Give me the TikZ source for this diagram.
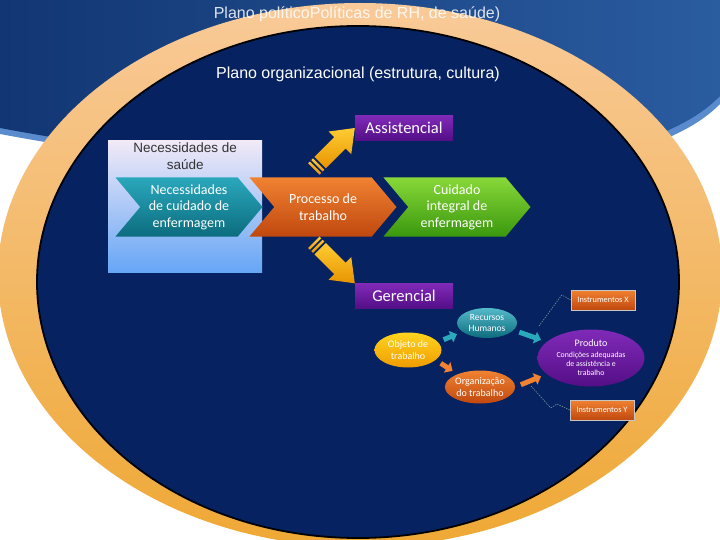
\documentclass[tikz,border=0pt]{standalone}
\usepackage{fontspec}
\setmainfont{Carlito}
\newfontfamily\arialfont{Liberation Sans}
\usetikzlibrary{shapes.geometric,shapes.symbols,arrows.meta}

\definecolor{bandblue}{RGB}{18,54,115}
\definecolor{bandlight}{RGB}{42,92,160}
\definecolor{bandedge}{RGB}{90,140,205}
\definecolor{peach}{RGB}{249,202,153}
\definecolor{gold}{RGB}{238,168,52}
\definecolor{navy}{RGB}{6,34,96}
\definecolor{tealA}{RGB}{42,168,188}
\definecolor{tealB}{RGB}{12,108,126}
\definecolor{orangeA}{RGB}{240,130,50}
\definecolor{orangeB}{RGB}{192,72,14}
\definecolor{greenA}{RGB}{136,216,56}
\definecolor{greenB}{RGB}{58,152,14}
\definecolor{purpleA}{RGB}{128,42,184}
\definecolor{purpleB}{RGB}{84,14,134}
\definecolor{lavender}{RGB}{242,234,247}
\definecolor{skyblue}{RGB}{102,166,246}
\definecolor{yellowA}{RGB}{255,212,30}
\definecolor{yellowB}{RGB}{240,156,0}
\definecolor{arrowA}{RGB}{255,204,50}
\definecolor{arrowB}{RGB}{232,148,0}
\definecolor{callgray}{RGB}{125,158,152}

\tikzset{
  title/.style={font=\arialfont\fontsize{16}{18}\selectfont, text=white},
  chevron/.style={signal, signal from=west, signal to=east, signal pointer angle=100,
    minimum width=147pt, minimum height=59pt, inner sep=0pt, text=white, align=center,
    font=\fontsize{14}{16.5}\selectfont},
  hdbox/.style={rectangle, minimum width=98pt, minimum height=25pt, inner sep=0pt,
    top color=purpleA, bottom color=purpleB, text=white, font=\fontsize{16.5}{18}\selectfont},
  yarrow/.style={top color=arrowA, bottom color=arrowB},
  bubble/.style={ellipse, inner sep=0pt, text=white, align=center, font=\fontsize{10}{11.5}\selectfont},
  instbox/.style={rectangle, minimum width=64pt, minimum height=20pt, inner sep=0pt,
    top color=orangeA, bottom color=orangeB, draw=white!55!gray, line width=0.4pt,
    text=white, font=\fontsize{8.3}{9.5}\selectfont},
  cycarrow/.style={line width=5pt, -{Triangle[width=12pt,length=6.5pt]}, shorten <=6pt, shorten >=6pt},
  callout/.style={callgray, line width=0.5pt, dash pattern=on 1.5pt off 1pt}
}

\begin{document}
\begin{tikzpicture}[x=1pt,y=-1pt]
 \useasboundingbox (0,0) rectangle (720,540);
 \fill[white] (0,0) rectangle (720,540);
 \begin{scope}
 \clip (0,0) rectangle (720,540);
 % blue band
 \fill[bandedge] (0,0) -- (0,134) .. controls (250,181) and (620,206) .. (720,104) -- (720,0) -- cycle;
 \shade[left color=bandblue, right color=bandlight] (0,0) -- (0,128) .. controls (250,175) and (620,200) .. (720,96) -- (720,0) -- cycle;
 % planes
 \shade[top color=peach, middle color=peach, bottom color=gold] (360,275) ellipse (362 and 272);
 \fill[navy, draw=black, line width=1.8pt] (358,282) ellipse (321 and 256);
 \end{scope}
 \node[title, text opacity=.85] (politico) at (357,14) {Plano políticoPolíticas de RH, de saúde)};
 \node[title] (organiz) at (358,74) {Plano organizacional (estrutura, cultura)};

 % needs and work process
 \node[rectangle, minimum width=154pt, minimum height=132pt, top color=lavender, bottom color=skyblue,
   anchor=north west] (needs) at (108,140) {};
 \node[anchor=north, inner sep=3pt, align=center, text=black!80, font=\arialfont\fontsize{13.5}{17}\selectfont]
   (needslbl) at (needs.north) {Necessidades de\\saúde};
 \node[chevron, top color=tealA, bottom color=tealB] (care) at (189,207) {Necessidades\\de cuidado de\\enfermagem};
 \node[chevron, top color=orangeA, bottom color=orangeB] (proc) at (323,207) {Processo de\\trabalho};
 \node[chevron, top color=greenA, bottom color=greenB] (integral) at (457,207) {Cuidado\\integral de\\enfermagem};

 \node[hdbox] (assist) at (404,128) {Assistencial};
 \node[hdbox] (geren) at (404,296) {Gerencial};

 % yellow arrows
 \begin{scope}[shift={(assist.west)}, rotate=45]
  \shade[yarrow] (-49,-8) -- (-21,-8) -- (-21,-16) -- (0,0) -- (-21,16) -- (-21,8) -- (-49,8) -- cycle;
  \shade[yarrow] (-58,-8) rectangle (-55.5,8) (-53.5,-8) rectangle (-51,8);
 \end{scope}
 \begin{scope}[shift={(geren.north west)}, rotate=-45]
  \shade[yarrow] (-49,-8) -- (-21,-8) -- (-21,-16) -- (0,0) -- (-21,16) -- (-21,8) -- (-49,8) -- cycle;
  \shade[yarrow] (-58,-8) rectangle (-55.5,8) (-53.5,-8) rectangle (-51,8);
 \end{scope}

 % management cycle
 \node[bubble, minimum width=60pt, minimum height=30pt, top color=tealA!80!white, bottom color=tealB,
   font=\fontsize{9.5}{11}\selectfont] (rh) at (487,323) {Recursos\\Humanos};
 \node[bubble, minimum width=67pt, minimum height=35pt, top color=yellowA, bottom color=yellowB] (obj) at (408,350) {Objeto de\\trabalho};
 \node[bubble, minimum width=62pt, minimum height=33pt, top color=orangeA, bottom color=orangeB] (org) at (480,387) {Organização\\do trabalho};
 \node[bubble, minimum width=107pt, minimum height=57pt, top color=purpleA, bottom color=purpleB,
   font=\fontsize{7.8}{9}\selectfont] (prod) at (591,358) {{\fontsize{10}{12}\selectfont Produto}\\[2pt]Condições adequadas\\de assistência e\\trabalho};
 \node[instbox] (ix) at (603,300) {Instrumentos X};
 \node[instbox] (iy) at (602,410) {Instrumentos Y};

 \draw[cycarrow, tealA] (obj.15) -- (rh.200);
 \draw[cycarrow, orangeA] (obj.-20) -- (org.150);
 \draw[cycarrow, tealA] (rh.-15) -- (prod.160);
 \draw[cycarrow, orangeA] (org.0) -- (prod.200);

 \coordinate (xfoot) at (539,326);
 \coordinate (yfoot) at (531,386);
 \draw[callout] (ix.west) -- ++(-9,-5) -- (xfoot);
 \draw[callout] (iy.west) -- ++(-13,-6) -- ++(-6,4) -- (yfoot);
\end{tikzpicture}
\end{document}
